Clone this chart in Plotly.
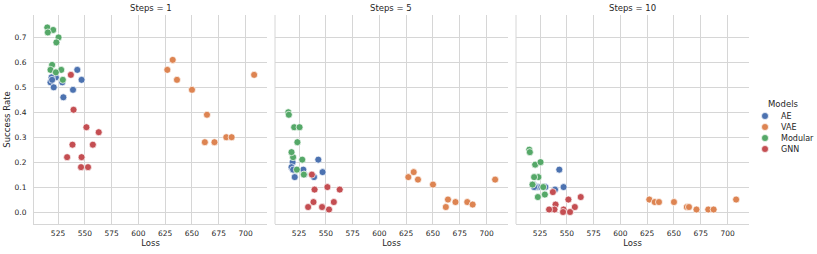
import plotly.graph_objects as go

models = ["AE", "VAE", "Modular", "GNN"]
colors = ["#4c72b0", "#dd8452", "#55a868", "#c44e52"]
steps = [1, 5, 10]
x_ticks = [525, 550, 575, 600, 625, 650, 675, 700]
y_ticks = [0.0, 0.1, 0.2, 0.3, 0.4, 0.5, 0.6, 0.7]

ae_loss = [543, 547, 523, 519, 518, 521, 529, 539, 530, 519.5]
ae_s1 = [0.57, 0.53, 0.54, 0.54, 0.52, 0.50, 0.52, 0.49, 0.46, 0.53]
ae_s5 = [0.21, 0.16, 0.17, 0.20, 0.18, 0.14, 0.17, 0.14, 0.15, 0.17]
ae_s10 = [0.17, 0.10, 0.10, 0.11, 0.11, 0.10, 0.10, 0.09, 0.10, 0.10]

vae_loss = [627, 632, 636, 650, 662, 664, 671, 682, 687, 708]
vae_s1 = [0.57, 0.61, 0.53, 0.49, 0.28, 0.39, 0.28, 0.30, 0.30, 0.55]
vae_s5 = [0.14, 0.16, 0.13, 0.11, 0.02, 0.05, 0.04, 0.04, 0.03, 0.13]
vae_s10 = [0.05, 0.04, 0.04, 0.04, 0.02, 0.02, 0.01, 0.01, 0.01, 0.05]

mod_loss = [515, 520.5, 515.5, 525.5, 523.5, 519.5, 518, 528, 523, 529.5]
mod_s1 = [0.74, 0.73, 0.72, 0.70, 0.68, 0.59, 0.57, 0.57, 0.56, 0.53]
mod_s5 = [0.40, 0.34, 0.39, 0.34, 0.28, 0.22, 0.24, 0.21, 0.17, 0.15]
mod_s10 = [0.25, 0.19, 0.24, 0.20, 0.14, 0.14, 0.11, 0.10, 0.06, 0.07]

gnn_loss = [537, 539.5, 551.5, 563, 538.5, 557.5, 533.5, 547, 546.5, 553]
gnn_s1 = [0.55, 0.41, 0.34, 0.32, 0.27, 0.27, 0.22, 0.22, 0.18, 0.18]
gnn_s5 = [0.15, 0.09, 0.10, 0.09, 0.04, 0.04, 0.02, 0.02, 0.02, 0.01]
gnn_s10 = [0.08, 0.03, 0.05, 0.06, 0.01, 0.02, 0.01, 0.01, 0.00, 0.00]

losses = [ae_loss, vae_loss, mod_loss, gnn_loss]
rates = [
    [ae_s1, ae_s5, ae_s10],
    [vae_s1, vae_s5, vae_s10],
    [mod_s1, mod_s5, mod_s10],
    [gnn_s1, gnn_s5, gnn_s10],
]

FONT = "DejaVu Sans"
TXT = "#262626"
GRID = "#d6d6d6"
MSIZE = 7

W, H = 817, 254
L, R, T, B = 34, 10, 15, 30
pw = W - L - R
ph = H - T - B
panel_px = [(34, 267), (275, 508), (516, 749)]
domains = [[(a - L) / pw, (b - L) / pw] for a, b in panel_px]


def px_x(px):
    return (px - L) / pw


def px_y(py):
    return (H - B - py) / ph


fig = go.Figure()
for p, st in enumerate(steps):
    xa = "x" if p == 0 else f"x{p+1}"
    for m, name in enumerate(models):
        fig.add_trace(go.Scatter(
            x=losses[m], y=rates[m][p], mode="markers", name=name,
            showlegend=False,
            marker=dict(color=colors[m], size=MSIZE, line=dict(color="white", width=0.7)),
            xaxis=xa, yaxis="y",
        ))

# legend drawn on its own small axis (marker column at x=0, one row per model)
leg_top, leg_bot = 96, 156
row0, row_gap = 116, 11
mark_x, text_x, title_x, title_y = 765, 779, 783, 104
fig.add_trace(go.Scatter(
    x=[0] * len(models), y=list(range(len(models))), mode="markers",
    marker=dict(color=colors, size=MSIZE, line=dict(color="white", width=0.7)),
    xaxis="x4", yaxis="y2", showlegend=False, hoverinfo="skip", cliponaxis=False,
))

layout = dict(
    width=W, height=H,
    margin=dict(l=L, r=R, t=T, b=B, autoexpand=False),
    paper_bgcolor="white", plot_bgcolor="white",
    font=dict(family=FONT, size=8, color=TXT),
    showlegend=False,
    yaxis=dict(range=[-0.048, 0.79], tickvals=y_ticks, ticktext=[f"{v:.1f}" for v in y_ticks],
               showgrid=True, gridcolor=GRID, gridwidth=1, zeroline=False,
               showline=True, linecolor=GRID, linewidth=1, ticks="",
               ticklabelstandoff=5, automargin=False,
               title=dict(text="Success Rate", font=dict(size=8.5, color=TXT), standoff=2),
               tickfont=dict(size=7.5, color=TXT), anchor="x"),
    xaxis4=dict(domain=[px_x(755), px_x(807)], range=[755 - mark_x, 807 - mark_x], visible=False,
                fixedrange=True, anchor="y2", automargin=False),
    yaxis2=dict(domain=[px_y(leg_bot), px_y(leg_top)],
                range=[(leg_bot - row0) / row_gap, (leg_top - row0) / row_gap],
                visible=False, fixedrange=True, anchor="x4", automargin=False),
)
annotations = []
shapes = []
for p, st in enumerate(steps):
    key = "xaxis" if p == 0 else f"xaxis{p+1}"
    layout[key] = dict(
        domain=domains[p], range=[502.6, 720], tickvals=x_ticks,
        showgrid=True, gridcolor=GRID, gridwidth=1, zeroline=False,
        showline=True, linecolor=GRID, linewidth=1, ticks="",
        ticklabelstandoff=2, automargin=False,
        title=dict(text="Loss", font=dict(size=8.5, color=TXT), standoff=3),
        tickfont=dict(size=7.5, color=TXT), anchor="y",
    )
    annotations.append(dict(
        text=f"Steps = {st}", x=sum(domains[p]) / 2, y=1.0, xref="paper", yref="paper",
        xanchor="center", yanchor="middle", yshift=7, showarrow=False,
        font=dict(size=8.5, color=TXT)))
    if p > 0:
        shapes.append(dict(type="line", xref="paper", yref="paper",
                           x0=domains[p][0], x1=domains[p][0], y0=0, y1=1,
                           line=dict(color=GRID, width=1)))
for m, name in enumerate(models):
    annotations.append(dict(text=name, x=px_x(text_x), y=px_y(row0 + m * row_gap),
                            xref="paper", yref="paper", xanchor="left",
                            yanchor="middle", showarrow=False, font=dict(size=8, color=TXT)))
annotations.append(dict(text="Models", x=px_x(title_x), y=px_y(title_y), xref="paper",
                        yref="paper", xanchor="center", yanchor="middle", showarrow=False,
                        font=dict(size=8.5, color=TXT)))
layout["annotations"] = annotations
layout["shapes"] = shapes
fig.update_layout(**layout)
fig.write_html("out.html", config={"displayModeBar": False},
               post_script="document.body.style.margin='0';document.body.style.overflow='hidden';")
